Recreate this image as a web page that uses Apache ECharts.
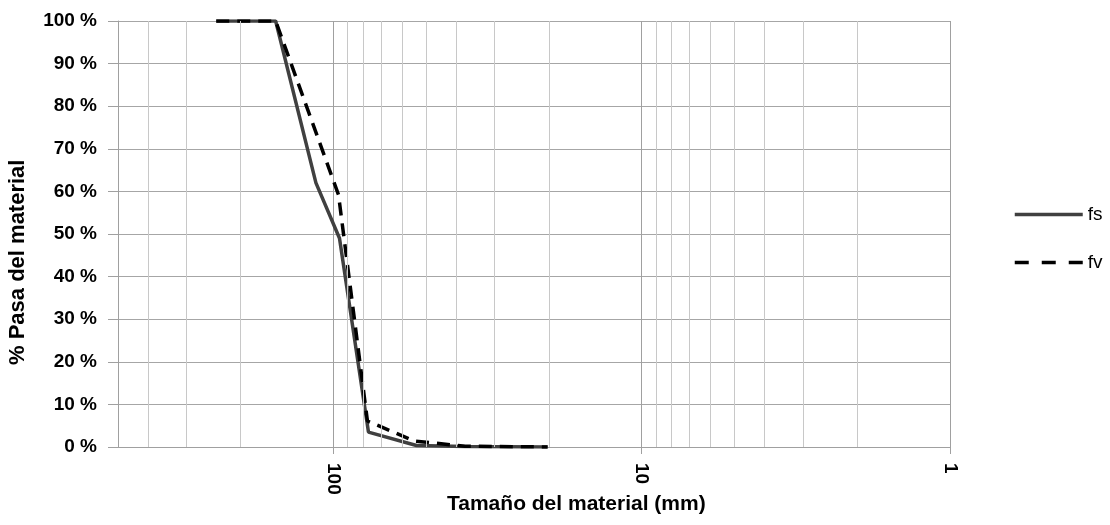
<!DOCTYPE html>
<html>
<head>
<meta charset="utf-8">
<script src="https://cdn.jsdelivr.net/npm/echarts@6/dist/echarts.min.js"></script>
<style>
  html, body { margin: 0; padding: 0; background: #fff; }
  #chart { width: 1110px; height: 525px; }
</style>
</head>
<body>
<div id="chart"></div>
<script>
// Data
const seriesNames = ['fs', 'fv'];
const fsSize = [240, 154, 114, 95.6, 77, 53.8, 37.5, 20.2];
const fsPass = [100, 100, 62, 49, 3.5, 0.35, 0.1, 0];
const fvSize = [240, 154, 96.3, 77.6, 54.6, 37.5, 20.2];
const fvPass = [100, 100, 59.2, 6.1, 1.4, 0.2, 0];
const yTicks = [0, 10, 20, 30, 40, 50, 60, 70, 80, 90, 100];
const xMajor = [1, 10, 100];
const xMinorGrid = [2, 3, 4, 5, 6, 7, 8, 9, 20, 30, 40, 50, 60, 70, 80, 90, 200, 300, 400];
const xTitle = 'Tamaño del material (mm)';
const yTitle = '% Pasa del material';

const FONT = "'Liberation Sans', Arial, sans-serif";

const chart = echarts.init(document.getElementById('chart'), null, { renderer: 'canvas' });

const option = {
  backgroundColor: '#ffffff',
  animation: false,
  grid: { left: 118, right: 160, top: 21, bottom: 78, containLabel: false, outerBoundsMode: 'none' },
  legend: {
    orient: 'vertical',
    left: 1013,
    top: 205,
    padding: 0,
    itemWidth: 68,
    itemHeight: 14,
    itemGap: 29,
    itemStyle: { opacity: 0 },
    textStyle: { fontFamily: FONT, fontSize: 19, color: '#000' },
    data: [
      { name: seriesNames[0], lineStyle: { color: '#404040', width: 3.5, type: 'solid' } },
      { name: seriesNames[1], lineStyle: { color: '#000000', width: 3.5, type: [14, 13] } }
    ]
  },
  graphic: [
    {
      type: 'text',
      left: 577 - 130,
      top: 494,
      style: { text: xTitle, fontFamily: FONT, fontSize: 21, fontWeight: 'bold', fill: '#000' }
    },
    {
      type: 'text',
      rotation: Math.PI / 2,
      x: 7,
      y: 258 + 107,
      style: { text: yTitle, fontFamily: FONT, fontSize: 22, fontWeight: 'bold', fill: '#000', textBaseline: 'top' }
    }
  ],
  xAxis: {
    type: 'log',
    logBase: 10,
    inverse: true,
    min: 1,
    max: 500,
    axisLine: { show: true, lineStyle: { color: '#a0a0a0', width: 1 } },
    axisTick: { show: true, inside: false, length: 7, lineStyle: { color: '#a0a0a0' } },
    axisLabel: {
      rotate: -90,
      margin: 16,
      fontFamily: FONT,
      fontSize: 19,
      fontWeight: 'bold',
      color: '#000',
      showMaxLabel: false,
      formatter: function (v) { return xMajor.indexOf(Math.round(v)) >= 0 ? String(Math.round(v)) : ''; }
    },
    splitLine: { show: true, lineStyle: { color: '#a0a0a0', width: 1 } },
    minorTick: { show: false },
    minorSplitLine: { show: false }
  },
  yAxis: {
    type: 'value',
    min: 0,
    max: 100,
    interval: 10,
    axisLine: { show: true, lineStyle: { color: '#a0a0a0', width: 1 } },
    axisTick: { show: true, inside: false, length: 10, lineStyle: { color: '#a0a0a0' } },
    axisLabel: {
      margin: 21,
      fontFamily: FONT,
      fontSize: 19,
      fontWeight: 'bold',
      color: '#000',
      formatter: '{value} %'
    },
    splitLine: { show: true, lineStyle: { color: '#a6a6a6', width: 1 } }
  },
  series: [
    {
      name: 'grid-minor',
      type: 'line',
      data: [],
      silent: true,
      z: 1,
      markLine: {
        silent: true,
        symbol: ['none', 'none'],
        label: { show: false },
        lineStyle: { color: '#c8c8c8', width: 1, type: 'solid' },
        data: xMinorGrid.map(v => ({ xAxis: v }))
      }
    },
    {
      name: 'fs',
      type: 'line',
      data: fsSize.map((s, i) => [s, fsPass[i]]),
      showSymbol: false,
      symbol: 'none',
      z: 3,
      color: '#404040',
      lineStyle: { color: '#404040', width: 3.5, type: 'solid' }
    },
    {
      name: 'fv',
      type: 'line',
      data: fvSize.map((s, i) => [s, fvPass[i]]),
      showSymbol: false,
      symbol: 'none',
      z: 4,
      color: '#000000',
      lineStyle: { color: '#000000', width: 3.5, type: [13, 8] }
    }
  ]
};

chart.setOption(option);
</script>
</body>
</html>
